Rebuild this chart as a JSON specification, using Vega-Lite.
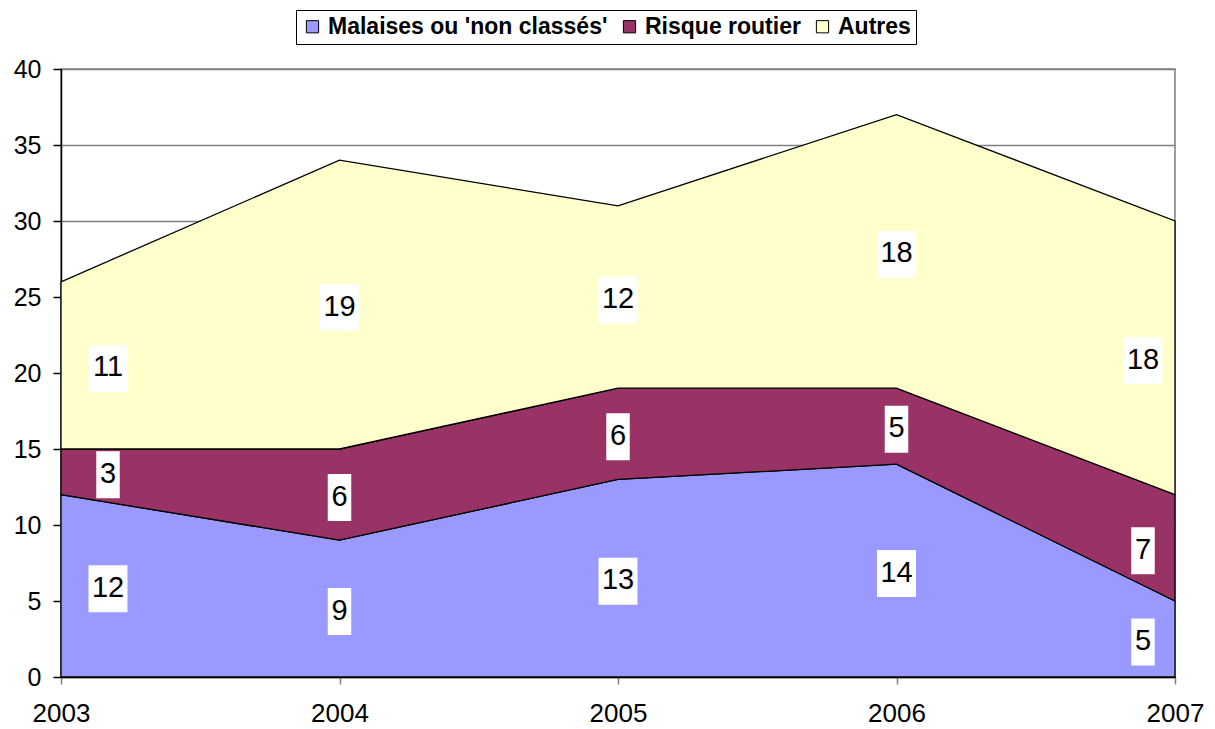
{
  "$schema": "https://vega.github.io/schema/vega-lite/v6.json",
  "width": 1114,
  "height": 608,
  "autosize": "none",
  "padding": {"left": 61, "top": 69, "right": 40, "bottom": 52},
  "background": "white",
  "config": {
    "font": "Liberation Sans",
    "view": {"stroke": "#808080", "strokeWidth": 1.5}
  },
  "data": {
    "values": [
      {"year": 2003, "series": "Malaises ou 'non classés'", "order": 1, "value": 12},
      {"year": 2004, "series": "Malaises ou 'non classés'", "order": 1, "value": 9},
      {"year": 2005, "series": "Malaises ou 'non classés'", "order": 1, "value": 13},
      {"year": 2006, "series": "Malaises ou 'non classés'", "order": 1, "value": 14},
      {"year": 2007, "series": "Malaises ou 'non classés'", "order": 1, "value": 5},
      {"year": 2003, "series": "Risque routier", "order": 2, "value": 3},
      {"year": 2004, "series": "Risque routier", "order": 2, "value": 6},
      {"year": 2005, "series": "Risque routier", "order": 2, "value": 6},
      {"year": 2006, "series": "Risque routier", "order": 2, "value": 5},
      {"year": 2007, "series": "Risque routier", "order": 2, "value": 7},
      {"year": 2003, "series": "Autres", "order": 3, "value": 11},
      {"year": 2004, "series": "Autres", "order": 3, "value": 19},
      {"year": 2005, "series": "Autres", "order": 3, "value": 12},
      {"year": 2006, "series": "Autres", "order": 3, "value": 18},
      {"year": 2007, "series": "Autres", "order": 3, "value": 18}
    ]
  },
  "transform": [
    {"stack": "value", "groupby": ["year"], "sort": [{"field": "order", "order": "ascending"}], "as": ["v0", "v1"]}
  ],
  "encoding": {
    "x": {
      "field": "year", "type": "quantitative",
      "scale": {"domain": [2003, 2007], "nice": false, "zero": false},
      "axis": {
        "values": [2003, 2004, 2005, 2006, 2007], "format": "d", "title": null,
        "grid": false, "domainColor": "black", "domainWidth": 1.5,
        "tickColor": "#808080", "tickSize": 7, "tickWidth": 1.5,
        "labelFontSize": 26, "labelColor": "black", "labelPadding": 16,
        "labelFont": "Liberation Sans", "labelFlush": false
      }
    }
  },
  "layer": [
    {
      "mark": {"type": "area", "stroke": "black", "strokeWidth": 1.3, "fillOpacity": 1, "interpolate": "linear"},
      "encoding": {
        "y": {
          "field": "v1", "type": "quantitative",
          "scale": {"domain": [0, 40], "nice": false},
          "axis": {
            "values": [0, 5, 10, 15, 20, 25, 30, 35, 40], "title": null,
            "grid": true, "gridColor": "#808080", "gridWidth": 1.5,
            "domainColor": "black", "domainWidth": 1.5,
            "tickColor": "black", "tickSize": 8, "tickWidth": 1.5,
            "labelFontSize": 25, "labelColor": "black", "labelPadding": 12,
            "labelFont": "Liberation Sans"
          }
        },
        "y2": {"field": "v0"},
        "color": {
          "field": "series", "type": "nominal",
          "scale": {
            "domain": ["Malaises ou 'non classés'", "Risque routier", "Autres"],
            "range": ["#9999FF", "#993366", "#FFFFCC"]
          },
          "legend": {
            "title": null, "orient": "none", "direction": "horizontal",
            "legendX": 235, "legendY": -59,
            "fillColor": "white", "strokeColor": "black", "padding": 5,
            "symbolType": "square", "symbolSize": 150,
            "symbolStrokeColor": "black", "symbolStrokeWidth": 1,
            "symbolOpacity": 1,
            "labelFontSize": 23, "labelFontWeight": "bold", "labelColor": "black",
            "labelFont": "Liberation Sans", "labelOffset": 4, "columnPadding": 10,
            "labelLimit": 400
          }
        }
      }
    },
    {
      "transform": [{"calculate": "(datum.v0 + datum.v1) / 2", "as": "mid"}],
      "mark": {
        "type": "point", "filled": true, "fill": "white", "opacity": 1, "size": 2209, "strokeWidth": 0,
        "xOffset": {"expr": "datum.year == 2003 ? 47 : (datum.year == 2007 ? -32 : 0)"},
        "yOffset": 3
      },
      "encoding": {
        "y": {"field": "mid", "type": "quantitative"},
        "shape": {
          "condition": {"test": "datum.value >= 10", "value": "M-0.83,-1H0.83V1H-0.83Z"},
          "value": "M-0.5,-1H0.5V1H-0.5Z"
        }
      }
    },
    {
      "transform": [{"calculate": "(datum.v0 + datum.v1) / 2", "as": "mid"}],
      "mark": {
        "type": "text", "fontSize": 29, "color": "black", "baseline": "middle", "align": "center",
        "font": "Liberation Sans",
        "xOffset": {"expr": "datum.year == 2003 ? 47 : (datum.year == 2007 ? -32 : 0)"},
        "yOffset": 2
      },
      "encoding": {
        "y": {"field": "mid", "type": "quantitative"},
        "text": {"field": "value", "type": "quantitative"}
      }
    }
  ]
}
